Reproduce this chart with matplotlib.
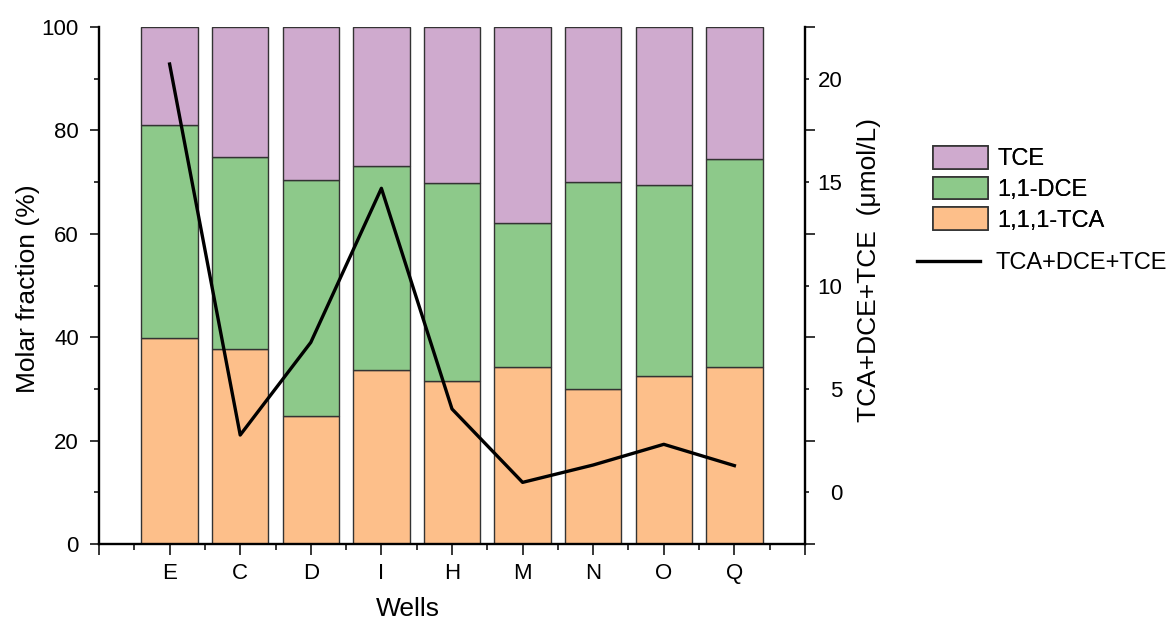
import matplotlib
matplotlib.use("Agg")
import matplotlib.pyplot as plt
from matplotlib.patches import Patch
from matplotlib.lines import Line2D
import numpy as np

plt.rcParams['font.family'] = ['Liberation Sans', 'DejaVu Sans']

# molar fractions (%) per well and total concentration (umol/L)
wells = ['E', 'C', 'D', 'I', 'H', 'M', 'N', 'O', 'Q']
tca = [39.8, 37.8, 24.8, 33.7, 31.5, 34.2, 30.0, 32.4, 34.3]
dce = [41.2, 37.0, 45.7, 39.4, 38.3, 27.9, 40.0, 37.0, 40.2]
tce = [19.0, 25.2, 29.5, 26.9, 30.2, 37.9, 30.0, 30.6, 25.5]
total = [20.71, 2.77, 7.25, 14.70, 4.03, 0.48, 1.32, 2.32, 1.29]

c_tca = '#FDBF8A'
c_dce = '#8DC98A'
c_tce = '#CFAACE'
edge = '#333333'

fig = plt.figure(figsize=(11.69, 6.21), dpi=100)
ax = fig.add_axes([0.0847, 0.124, 0.6039, 0.8325])
ax2 = ax.twinx()

x = np.arange(len(wells))
tca = np.array(tca)
dce = np.array(dce)
tce = np.array(tce)
ax.bar(x, tca, width=0.8, color=c_tca, edgecolor=edge, linewidth=1)
ax.bar(x, dce, width=0.8, bottom=tca, color=c_dce, edgecolor=edge, linewidth=1)
ax.bar(x, tce, width=0.8, bottom=tca + dce, color=c_tce, edgecolor=edge, linewidth=1)

ax2.plot(x, total, color='black', linewidth=2.4)

# left axis
ax.set_xlim(-1, 9)
ax.set_ylim(0, 100)
ax.set_yticks(np.arange(0, 101, 20))
ax.set_yticks(np.arange(10, 100, 20), minor=True)
ax.set_xticks(np.arange(-1, 10))
ax.set_xticklabels([''] + wells + [''])
ax.set_xticks(np.arange(-0.5, 9, 1), minor=True)
ax.tick_params(axis='y', which='major', direction='out', length=6.5, width=1.1,
               labelsize=16, pad=8)
ax.tick_params(axis='y', which='minor', direction='out', length=3.6, width=1.1)
ax.tick_params(axis='x', which='major', direction='out', length=8, width=1.1,
               labelsize=16, pad=6)
ax.tick_params(axis='x', which='minor', direction='out', length=4.3, width=1.1)

ax.set_ylabel('Molar fraction (%)', fontsize=19)
ax.yaxis.set_label_coords(-0.0836, 0.493)
ax.set_xlabel('Wells', fontsize=19)
ax.xaxis.set_label_coords(0.438, -0.1025)

# right axis
ax2.set_ylim(-2.5, 22.5)
ax2.set_yticks(np.arange(0, 21, 5))
ax2.set_yticks(np.arange(-2.5, 23, 5), minor=True)
ax2.tick_params(axis='y', which='major', direction='out', length=3, width=1.1,
                labelsize=16, pad=24)
ax2.tick_params(axis='y', which='minor', direction='out', length=7, width=1.1)
for lab in ax2.get_yticklabels():
    lab.set_horizontalalignment('right')
ax2.set_ylabel('TCA+DCE+TCE  (\u03bcmol/L)', fontsize=19)
ax2.yaxis.set_label_coords(1.0737, 0.53)

for a in (ax, ax2):
    a.spines['top'].set_visible(False)
    for s in a.spines.values():
        s.set_linewidth(1.7)
ax.spines['right'].set_visible(False)
ax2.spines['left'].set_visible(False)
ax2.spines['bottom'].set_visible(False)

# legends
bar_handles = [Patch(facecolor=c_tce, edgecolor=edge, linewidth=1.2),
               Patch(facecolor=c_dce, edgecolor=edge, linewidth=1.2),
               Patch(facecolor=c_tca, edgecolor=edge, linewidth=1.2)]
leg1 = fig.legend(bar_handles, ['TCE', '1,1-DCE', '1,1,1-TCA'],
                  loc='upper left', bbox_to_anchor=(933 / 1169, 1 - 146 / 621),
                  frameon=False, fontsize=17, handlelength=2.33, handleheight=1.1,
                  labelspacing=0.27, handletextpad=0.4, borderpad=0, borderaxespad=0)
leg2 = fig.legend([Line2D([0], [0], color='black', linewidth=2.4)], ['TCA+DCE+TCE'],
                  loc='upper left', bbox_to_anchor=(917 / 1169, 1 - 252 / 621),
                  frameon=False, fontsize=17, handlelength=2.67,
                  handletextpad=0.64, borderpad=0, borderaxespad=0)
fig.add_artist(leg1)

fig.savefig('out.png', dpi=100)
